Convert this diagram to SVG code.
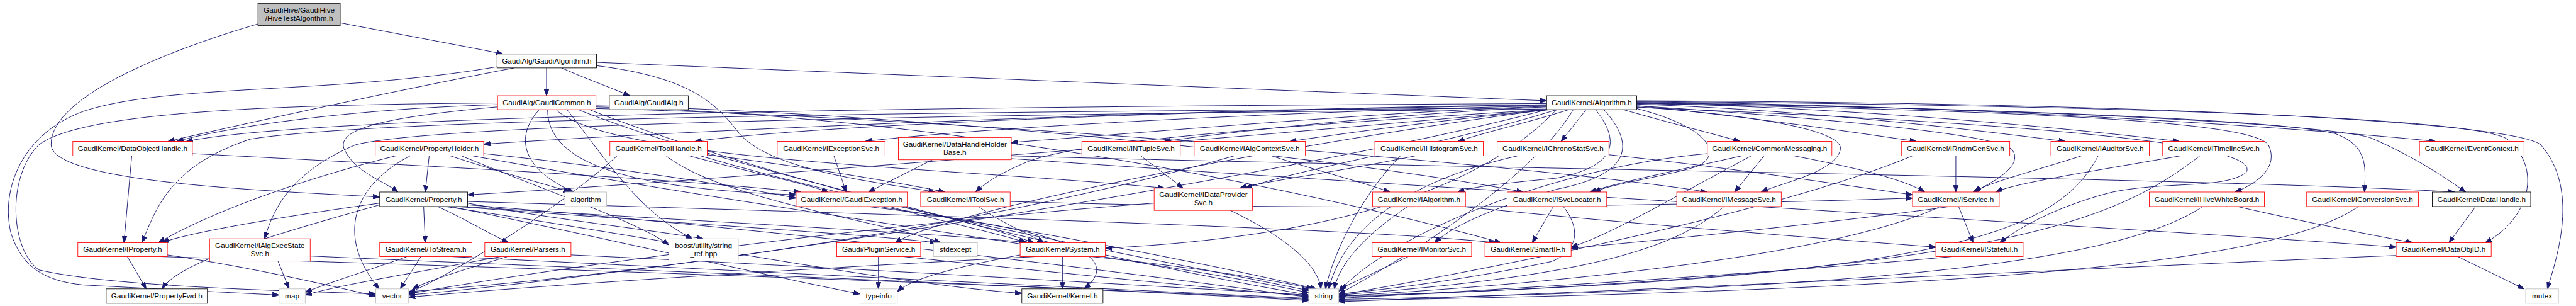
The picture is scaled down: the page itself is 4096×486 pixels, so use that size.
<svg xmlns="http://www.w3.org/2000/svg" width="4096" height="486" viewBox="0 0 4096 486">
<style>
.n rect{fill:#fff;stroke-width:1}
.r rect{stroke:#ff0000}
.b rect{stroke:#000}
.g rect{stroke:#bfbfbf}
.n text{font-family:'Liberation Sans',Arial,sans-serif;font-size:13.3px;text-anchor:middle;fill:#000}
#edges path{fill:none;stroke:#191970;stroke-width:1.1;marker-end:url(#a)}
</style>
<defs>
<marker id="a" markerUnits="userSpaceOnUse" markerWidth="12" markerHeight="9" refX="12" refY="4.5" orient="auto" viewBox="0 0 12 9">
<path d="M0,0 L12,4.5 L0,9 z" fill="#191970" stroke="#191970" stroke-width="1"/>
</marker>
</defs>
<rect width="4096" height="486" fill="#fff"/>
<g transform="scale(0.884)">
<g id="edges">
<path d="M612,41 C700,58 830,82 905,97"/>
<path d="M464,43 C320,85 90,170 92,260 C94,330 500,343 683,354"/>
<path d="M983,122 L983,172"/>
<path d="M1010,122 C1050,140 1100,158 1133,172"/>
<path d="M1073,112 C1500,130 2300,162 2782,181"/>
<path d="M925,122 C700,165 450,220 302,254"/>
<path d="M894,120 C600,170 300,150 150,200 C40,240 0,340 20,420 C40,480 80,505 150,512 C300,520 420,526 502,530"/>
<path d="M1073,118 C1250,140 1290,190 1330,240 C1390,310 1600,330 1682,345"/>
<path d="M895,188 C650,195 420,225 318,254"/>
<path d="M895,185 C500,188 150,200 70,260 C10,320 20,450 70,485 C200,515 500,522 676,528"/>
<path d="M895,192 C700,210 600,230 620,270 C640,310 690,325 716,345"/>
<path d="M970,197 C930,240 930,300 1032,345"/>
<path d="M985,197 C985,300 1150,340 1432,350"/>
<path d="M1000,197 C1100,290 1700,300 2095,338"/>
<path d="M1072,190 C1600,200 2400,280 2740,345"/>
<path d="M1072,195 C1700,210 2800,300 3070,345"/>
<path d="M1040,197 C1300,300 1700,380 1860,436"/>
<path d="M1060,197 C1400,330 2000,470 2354,530"/>
<path d="M1020,197 C1100,300 1150,380 1245,429"/>
<path d="M1072,192 C1800,210 2500,380 2700,436"/>
<path d="M2782,186 C2000,190 600,200 335,254"/>
<path d="M2782,188 C2200,195 1300,230 870,259"/>
<path d="M2782,189 C2300,195 1500,220 1250,254"/>
<path d="M2782,190 C2400,198 1800,225 1556,254"/>
<path d="M2782,191 C2500,200 2100,235 1819,256"/>
<path d="M2782,192 C2600,200 2300,225 2094,254"/>
<path d="M2790,197 C2600,215 2450,235 2320,254"/>
<path d="M2822,197 C2750,220 2680,235 2622,254"/>
<path d="M2853,197 L2808,254"/>
<path d="M2920,197 C3000,220 3080,240 3130,254"/>
<path d="M2944,190 C3150,210 3350,240 3447,254"/>
<path d="M2944,187 C3300,200 3600,240 3715,254"/>
<path d="M2944,185 C3400,195 3800,240 3920,254"/>
<path d="M2944,183 C3600,190 4200,235 4381,254"/>
<path d="M2944,184 C3600,195 4100,215 4200,240 C4260,262 4255,300 4253,345"/>
<path d="M2944,185 C3700,195 4200,225 4265,248 C4340,280 4400,320 4435,345"/>
<path d="M2944,182 C3800,190 4450,210 4510,250 C4580,310 4540,400 4470,436"/>
<path d="M2944,181 C3900,185 4520,220 4570,260 C4640,340 4600,460 4582,519"/>
<path d="M2944,186 C3700,200 4050,220 4080,260 C4100,300 4060,330 4020,345"/>
<path d="M2944,190 C3250,210 3600,240 3620,270 C3640,300 3580,330 3549,345"/>
<path d="M2944,192 C3200,210 3320,240 3310,270 C3300,310 3200,330 3168,345"/>
<path d="M2944,195 C3080,230 3100,280 3050,300 C2980,320 2900,330 2867,345"/>
<path d="M2870,197 C2920,260 2900,300 2800,320 C2700,330 2650,335 2622,345"/>
<path d="M2885,197 C2960,280 2900,320 2800,340 C2700,370 2620,400 2580,436"/>
<path d="M2944,193 C3500,215 4080,250 4040,310 C4000,340 3900,325 3800,345 C3700,370 3630,410 3597,436"/>
<path d="M2782,194 C1800,200 700,210 450,250 C300,300 280,380 255,436"/>
<path d="M2782,196 C1800,205 800,220 640,260 C520,310 490,380 476,429"/>
<path d="M2782,197 C2200,250 1200,330 841,350"/>
<path d="M2782,197 C2400,220 1950,250 1850,290 C1800,310 1770,330 1755,345"/>
<path d="M2800,197 C2600,260 2350,300 2240,338"/>
<path d="M2800,197 C2700,300 2500,420 1988,446"/>
<path d="M2782,197 C2300,260 1700,380 1610,436"/>
<path d="M2830,197 C2750,330 2500,480 2408,528"/>
<path d="M2782,197 C2400,300 1300,480 735,530"/>
<path d="M237,280 L223,436"/>
<path d="M346,276 C800,300 1200,320 1440,345"/>
<path d="M772,280 L765,345"/>
<path d="M712,280 C550,320 380,380 285,436"/>
<path d="M810,280 C900,310 980,330 1025,345"/>
<path d="M870,276 C1100,300 1300,330 1432,356"/>
<path d="M738,280 C640,330 600,420 682,519"/>
<path d="M830,280 C1000,350 1150,400 1203,440"/>
<path d="M850,280 C1400,380 2100,470 2354,526"/>
<path d="M1198,280 C1300,360 1600,400 1692,436"/>
<path d="M1272,278 C1450,300 1600,325 1700,345"/>
<path d="M1240,280 C1350,310 1450,330 1490,345"/>
<path d="M1260,280 C1600,380 2100,470 2354,522"/>
<path d="M1110,280 C1000,380 800,500 735,526"/>
<path d="M1500,280 L1522,345"/>
<path d="M1677,287 L1562,345"/>
<path d="M1819,280 C2500,300 4000,320 4415,345"/>
<path d="M1819,285 C2600,340 4000,420 4310,444"/>
<path d="M2052,280 L2128,338"/>
<path d="M2287,280 C2380,310 2460,330 2500,345"/>
<path d="M2220,280 C1800,400 1200,490 735,524"/>
<path d="M2546,280 C2400,310 2280,325 2230,338"/>
<path d="M2519,280 C2450,350 2400,450 2384,519"/>
<path d="M2730,280 C2550,320 2420,400 2390,519"/>
<path d="M2894,278 C3100,300 3300,330 3440,350"/>
<path d="M3173,280 L3120,345"/>
<path d="M3227,280 C3330,300 3420,320 3462,345"/>
<path d="M3133,280 C3000,310 2900,330 2860,345"/>
<path d="M3150,280 C3000,360 2900,420 2826,444"/>
<path d="M3071,276 C2800,300 2500,420 2408,524"/>
<path d="M3518,280 L3518,345"/>
<path d="M3440,280 C3200,380 2700,480 2408,530"/>
<path d="M3744,280 C3650,310 3570,330 3552,345"/>
<path d="M3774,280 C3700,420 3500,500 2408,532"/>
<path d="M3922,280 C3750,310 3620,330 3590,345"/>
<path d="M3957,280 C3800,400 3600,490 2408,534"/>
<path d="M762,371 L765,436"/>
<path d="M787,371 C830,390 880,420 915,436"/>
<path d="M683,365 C500,390 330,420 292,436"/>
<path d="M683,368 C500,420 320,470 292,519"/>
<path d="M841,368 C1500,420 2100,500 2354,534"/>
<path d="M820,371 C1200,400 1550,420 1684,436"/>
<path d="M810,371 C1100,430 1400,500 1547,528"/>
<path d="M800,371 C1200,430 1600,510 1838,527"/>
<path d="M830,371 C1300,400 1700,420 1850,436"/>
<path d="M841,365 C1000,395 1150,410 1265,429"/>
<path d="M841,362 C1600,385 2450,410 2690,436"/>
<path d="M757,461 L720,519"/>
<path d="M732,461 C680,480 600,505 549,525"/>
<path d="M812,461 C1400,490 2000,520 2354,536"/>
<path d="M913,461 C850,480 780,500 742,519"/>
<path d="M900,461 C750,490 620,510 549,530"/>
<path d="M1027,458 C1500,480 2000,510 2354,530"/>
<path d="M229,461 L263,519"/>
<path d="M289,461 C900,480 1800,510 2354,538"/>
<path d="M301,458 C450,480 580,510 676,532"/>
<path d="M500,469 L520,519"/>
<path d="M558,460 C1000,480 1800,510 2354,540"/>
<path d="M1580,461 L1580,519"/>
<path d="M1625,461 C1900,490 2200,520 2354,532"/>
<path d="M1911,461 L1911,519"/>
<path d="M1963,461 C2150,480 2300,505 2362,519"/>
<path d="M1862,461 C1500,480 1000,510 735,534"/>
<path d="M1835,458 C1720,480 1640,500 1614,524"/>
<path d="M1600,371 C1700,400 1800,420 1845,436"/>
<path d="M1580,371 C1900,420 2200,480 2368,519"/>
<path d="M1560,371 C1800,400 2050,440 1950,519"/>
<path d="M1760,371 C1800,400 1850,420 1878,436"/>
<path d="M1817,362 C2400,380 3000,370 3440,356"/>
<path d="M2213,378 C2300,420 2370,470 2376,519"/>
<path d="M2076,365 C1600,400 1000,480 735,528"/>
<path d="M2532,371 C2460,420 2410,470 2400,519"/>
<path d="M2630,371 C2900,400 3300,430 3482,444"/>
<path d="M2794,371 L2756,436"/>
<path d="M2812,371 C2850,420 2830,455 2790,470 C2650,500 2500,520 2408,528"/>
<path d="M3101,371 C3000,460 2800,500 2408,530"/>
<path d="M3523,371 L3549,436"/>
<path d="M3508,371 C3300,400 3000,430 2826,446"/>
<path d="M3490,371 C3300,460 2800,510 2408,532"/>
<path d="M4024,371 C4150,400 4280,425 4340,436"/>
<path d="M3962,371 C3800,480 3300,520 2408,538"/>
<path d="M4242,371 C4100,470 3600,520 2408,540"/>
<path d="M4453,371 L4405,436"/>
<path d="M4421,461 L4540,519"/>
<path d="M4310,459 C3800,480 3000,520 2408,542"/>
<path d="M2533,461 L2410,519"/>
<path d="M3511,461 C3200,490 2700,520 2408,536"/>
</g>
<g id="hivetestalgorithm" class="n b"><rect x="464" y="6" width="148" height="40" style="fill:#bfbfbf"/><text x="538" y="22.5">GaudiHive/GaudiHive</text><text x="538" y="37">/HiveTestAlgorithm.h</text></g>
<g id="gaudialgorithm" class="n b"><rect x="894" y="97" width="179" height="25"/><text x="983.5" y="114">GaudiAlg/GaudiAlgorithm.h</text></g>
<g id="gaudicommon" class="n r"><rect x="895" y="172" width="177" height="25"/><text x="983.5" y="189">GaudiAlg/GaudiCommon.h</text></g>
<g id="gaudialg" class="n b"><rect x="1096" y="172" width="142" height="25"/><text x="1167" y="189">GaudiAlg/GaudiAlg.h</text></g>
<g id="algorithm_h" class="n b"><rect x="2782" y="172" width="162" height="25"/><text x="2863" y="189">GaudiKernel/Algorithm.h</text></g>
<g id="dataobjecthandle" class="n r"><rect x="131" y="254" width="215" height="26"/><text x="238.5" y="271.6">GaudiKernel/DataObjectHandle.h</text></g>
<g id="propertyholder" class="n r"><rect x="675" y="254" width="195" height="26"/><text x="772.5" y="271.6">GaudiKernel/PropertyHolder.h</text></g>
<g id="toolhandle" class="n r"><rect x="1097" y="254" width="175" height="26"/><text x="1184.5" y="271.6">GaudiKernel/ToolHandle.h</text></g>
<g id="iexceptionsvc" class="n r"><rect x="1398" y="254" width="194" height="26"/><text x="1495" y="271.6">GaudiKernel/IExceptionSvc.h</text></g>
<g id="datahandleholderbase" class="n r"><rect x="1616" y="247" width="203" height="40"/><text x="1717.5" y="263.5">GaudiKernel/DataHandleHolder</text><text x="1717.5" y="278">Base.h</text></g>
<g id="intuplesvc" class="n r"><rect x="1946" y="254" width="177" height="26"/><text x="2034.5" y="271.6">GaudiKernel/INTupleSvc.h</text></g>
<g id="ialgcontextsvc" class="n r"><rect x="2148" y="254" width="200" height="26"/><text x="2248" y="271.6">GaudiKernel/IAlgContextSvc.h</text></g>
<g id="ihistogramsvc" class="n r"><rect x="2473" y="254" width="195" height="26"/><text x="2570.5" y="271.6">GaudiKernel/IHistogramSvc.h</text></g>
<g id="ichronostatsvc" class="n r"><rect x="2693" y="254" width="201" height="26"/><text x="2793.5" y="271.6">GaudiKernel/IChronoStatSvc.h</text></g>
<g id="commonmessaging" class="n r"><rect x="3071" y="254" width="224" height="26"/><text x="3183" y="271.6">GaudiKernel/CommonMessaging.h</text></g>
<g id="irndmgensvc" class="n r"><rect x="3420" y="254" width="195" height="26"/><text x="3517.5" y="271.6">GaudiKernel/IRndmGenSvc.h</text></g>
<g id="iauditorsvc" class="n r"><rect x="3689" y="254" width="177" height="26"/><text x="3777.5" y="271.6">GaudiKernel/IAuditorSvc.h</text></g>
<g id="itimelinesvc" class="n r"><rect x="3890" y="254" width="184" height="26"/><text x="3982" y="271.6">GaudiKernel/ITimelineSvc.h</text></g>
<g id="eventcontext" class="n r"><rect x="4352" y="254" width="188" height="26"/><text x="4446" y="271.6">GaudiKernel/EventContext.h</text></g>
<g id="property" class="n b"><rect x="683" y="345" width="158" height="26"/><text x="762" y="362.6">GaudiKernel/Property.h</text></g>
<g id="std_algorithm" class="n g"><rect x="1016" y="345" width="75" height="26"/><text x="1053.5" y="362.6">algorithm</text></g>
<g id="gaudiexception" class="n r"><rect x="1432" y="345" width="200" height="26"/><text x="1532" y="362.6">GaudiKernel/GaudiException.h</text></g>
<g id="itoolsvc" class="n r"><rect x="1656" y="345" width="161" height="26"/><text x="1736.5" y="362.6">GaudiKernel/IToolSvc.h</text></g>
<g id="idataprovidersvc" class="n r"><rect x="2076" y="338" width="177" height="40"/><text x="2164.5" y="354.5">GaudiKernel/IDataProvider</text><text x="2164.5" y="369">Svc.h</text></g>
<g id="ialgorithm" class="n r"><rect x="2469" y="345" width="167" height="26"/><text x="2552.5" y="362.6">GaudiKernel/IAlgorithm.h</text></g>
<g id="isvclocator" class="n r"><rect x="2711" y="345" width="179" height="26"/><text x="2800.5" y="362.6">GaudiKernel/ISvcLocator.h</text></g>
<g id="imessagesvc" class="n r"><rect x="3016" y="345" width="188" height="26"/><text x="3110" y="362.6">GaudiKernel/IMessageSvc.h</text></g>
<g id="iservice" class="n r"><rect x="3440" y="345" width="156" height="26"/><text x="3518" y="362.6">GaudiKernel/IService.h</text></g>
<g id="ihivewhiteboard" class="n r"><rect x="3866" y="345" width="207" height="26"/><text x="3969.5" y="362.6">GaudiKernel/IHiveWhiteBoard.h</text></g>
<g id="iconversionsvc" class="n r"><rect x="4149" y="345" width="201" height="26"/><text x="4249.5" y="362.6">GaudiKernel/IConversionSvc.h</text></g>
<g id="datahandle" class="n b"><rect x="4375" y="345" width="177" height="26"/><text x="4463.5" y="362.6">GaudiKernel/DataHandle.h</text></g>
<g id="iproperty" class="n r"><rect x="140" y="436" width="161" height="25"/><text x="220.5" y="453">GaudiKernel/IProperty.h</text></g>
<g id="ialgexecstatesvc" class="n r"><rect x="377" y="429" width="181" height="40"/><text x="467.5" y="445.5">GaudiKernel/IAlgExecState</text><text x="467.5" y="460">Svc.h</text></g>
<g id="tostream" class="n r"><rect x="683" y="436" width="166" height="25"/><text x="766" y="453">GaudiKernel/ToStream.h</text></g>
<g id="parsers" class="n r"><rect x="872" y="436" width="155" height="25"/><text x="949.5" y="453">GaudiKernel/Parsers.h</text></g>
<g id="string_ref" class="n g"><rect x="1203" y="429" width="125" height="40"/><text x="1265.5" y="445.5">boost/utility/string</text><text x="1265.5" y="460">_ref.hpp</text></g>
<g id="pluginservice" class="n r"><rect x="1505" y="436" width="151" height="25"/><text x="1580.5" y="453">Gaudi/PluginService.h</text></g>
<g id="stdexcept" class="n g"><rect x="1679" y="436" width="79" height="25"/><text x="1718.5" y="453">stdexcept</text></g>
<g id="system" class="n r"><rect x="1835" y="436" width="153" height="25"/><text x="1911.5" y="453">GaudiKernel/System.h</text></g>
<g id="imonitorsvc" class="n r"><rect x="2468" y="436" width="179" height="25"/><text x="2557.5" y="453">GaudiKernel/IMonitorSvc.h</text></g>
<g id="smartif" class="n r"><rect x="2671" y="436" width="155" height="25"/><text x="2748.5" y="453">GaudiKernel/SmartIF.h</text></g>
<g id="istateful" class="n r"><rect x="3482" y="436" width="157" height="25"/><text x="3560.5" y="453">GaudiKernel/IStateful.h</text></g>
<g id="dataobjid" class="n r"><rect x="4310" y="436" width="171" height="25"/><text x="4395.5" y="453">GaudiKernel/DataObjID.h</text></g>
<g id="propertyfwd" class="n b"><rect x="191" y="519" width="182" height="26"/><text x="282" y="536.6">GaudiKernel/PropertyFwd.h</text></g>
<g id="map" class="n g"><rect x="502" y="519" width="47" height="26"/><text x="525.5" y="536.6">map</text></g>
<g id="vector" class="n g"><rect x="676" y="519" width="59" height="26"/><text x="705.5" y="536.6">vector</text></g>
<g id="typeinfo" class="n g"><rect x="1547" y="519" width="67" height="26"/><text x="1580.5" y="536.6">typeinfo</text></g>
<g id="kernel" class="n b"><rect x="1838" y="519" width="146" height="26"/><text x="1911" y="536.6">GaudiKernel/Kernel.h</text></g>
<g id="string" class="n g"><rect x="2354" y="519" width="54" height="26"/><text x="2381" y="536.6">string</text></g>
<g id="mutex" class="n g"><rect x="4543" y="519" width="59" height="26"/><text x="4572.5" y="536.6">mutex</text></g>
</g>
</svg>
